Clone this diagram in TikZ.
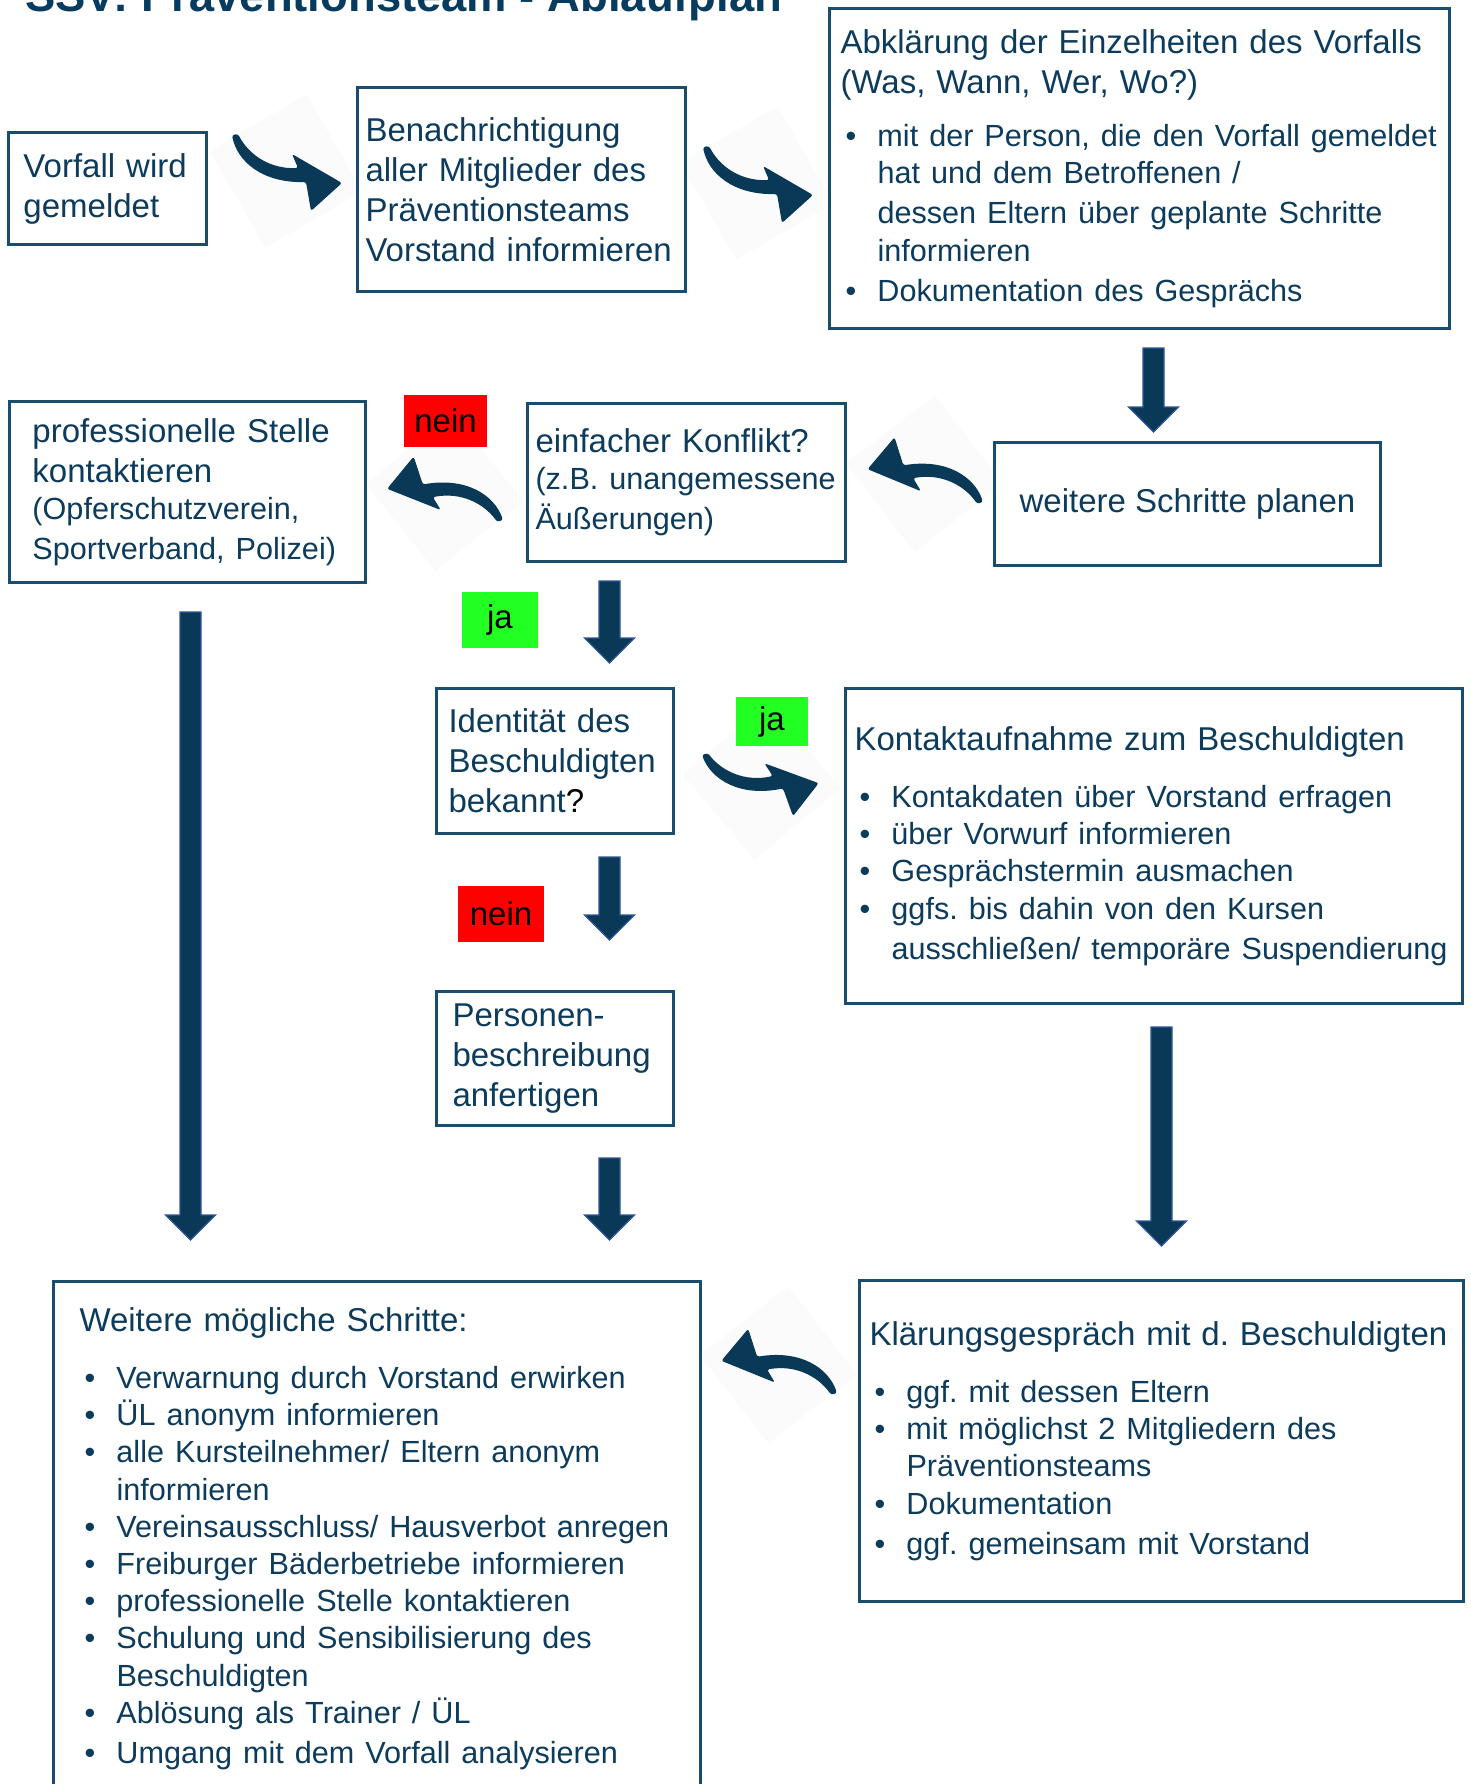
\documentclass[tikz,border=0pt]{standalone}
\usepackage{fontspec}
\setmainfont{Liberation Sans}
\usetikzlibrary{calc}
\setlength{\parindent}{0pt}
\frenchspacing

\definecolor{navy}{RGB}{13,59,92}
\definecolor{titleblue}{RGB}{8,60,95}
\definecolor{boxblue}{RGB}{26,76,110}
\definecolor{arrowblue}{RGB}{10,57,88}
\definecolor{arrowrim}{RGB}{47,85,151}
\definecolor{jagreen}{RGB}{34,255,34}

\newcommand{\titletxt}{\fontsize{22.7pt}{27pt}\selectfont\bfseries}
\newcommand{\bigtxt}{\fontsize{16.5pt}{20pt}\selectfont}
\newcommand{\smalltxt}{\fontsize{15.3pt}{18.6pt}\selectfont}
\newcommand{\bul}{\hspace*{2.5pt}\makebox[16pt][l]{•}}
\newcommand{\cont}{\hspace*{18.5pt}}

% block arrow pointing down, #1 = top coordinate, #2 = level of the tip
\newcommand{\blockdown}[2]{%
  \filldraw[blockarr] ($(#1)+(-10.5,0)$) -- ($(#1 |- #2)+(-10.5,-25)$) -- ($(#1 |- #2)+(-25,-25)$)
    -- (#1 |- #2) -- ($(#1 |- #2)+(25,-25)$) -- ($(#1 |- #2)+(10.5,-25)$) -- ($(#1)+(10.5,0)$) -- cycle;}

\tikzset{
  flowbox/.style={draw=boxblue, line width=1.5pt, fill=white, text=navy, font=\bigtxt,
    align=left, anchor=north west, inner ysep=0pt},
  answer/.style={font=\bigtxt, text=black, inner sep=0pt},
  blockarr/.style={fill=arrowblue, draw=arrowrim, line width=0.6pt},
  bentarrow/.pic={
    \fill[black!1.5, rotate around={30:(54,36)}] (-2,-20) rectangle (110,92);
    \fill[arrowblue, rounded corners=1.2pt] (0,0) .. controls (5,26) and (30,48) .. (74,47)
      -- (79,76) -- (110,48) -- (60,19) -- (66,33) .. controls (38,34) and (17,20) .. (6,-1) -- cycle;
  }
}

\begin{document}
\begin{tikzpicture}[x=0.5pt,y=-0.5pt]
\useasboundingbox (0,0) rectangle (1471,1784);
\clip (0,0) rectangle (1471,1784);

% title (cut at the top)
\node[anchor=base west, inner sep=0pt, text=titleblue, font=\titletxt] (titel) at (25,11) {SSV: Präventionsteam - Ablaufplan};

% bent arrows
\pic at (232,135) {bentarrow};
\pic at (703,147) {bentarrow};
\pic[rotate=188.5] at (503,520) {bentarrow};
\pic[rotate=187.7] at (983,502) {bentarrow};
\pic[rotate=10] at (702,755) {bentarrow};
\pic[rotate=188] at (837,1393) {bentarrow};

% boxes
\node[flowbox, minimum width=99pt, minimum height=56pt, inner xsep=7.5pt, text width=84pt] (vorfall) at (7,131)
  {Vorfall wird\\gemeldet};
\node[flowbox, minimum width=164pt, minimum height=102pt, inner xsep=4pt, text width=156pt] (benach) at (356,86)
  {Benachrichtigung\\aller Mitglieder des\\Präventionsteams\\Vorstand informieren};
\node[flowbox, minimum width=310pt, minimum height=160pt, inner xsep=5.5pt, text width=299pt] (abkl) at (828,7)
  {Abklärung der Einzelheiten des Vorfalls\\(Was, Wann, Wer, Wo?)\\[8pt]
   \smalltxt\bul mit der Person, die den Vorfall gemeldet\\\cont hat und dem Betroffenen /\\[1.5pt]
   \cont dessen Eltern über geplante Schritte\\\cont informieren\\\bul Dokumentation des Gesprächs};
\node[flowbox, minimum width=193pt, minimum height=61.5pt, align=center] (planen) at (993,441)
  {weitere Schritte planen};
\node[flowbox, minimum width=159pt, minimum height=79pt, inner xsep=4pt, text width=151pt] (konflikt) at (526,402)
  {einfacher Konflikt?\\\smalltxt(z.B. unangemessene\\Äußerungen)};
\node[flowbox, minimum width=178pt, minimum height=90.5pt, inner xsep=11.5pt, text width=155pt] (profi) at (8,400)
  {professionelle Stelle\\kontaktieren\\\smalltxt(Opferschutzverein,\\Sportverband, Polizei)};
\node[flowbox, minimum width=118.5pt, minimum height=72.5pt, inner xsep=6pt, text width=106.5pt] (ident) at (435,687)
  {Identität des\\Beschuldigten\\bekannt{\color{black}?}};
\node[flowbox, minimum width=308.5pt, minimum height=157.5pt, inner xsep=4.5pt, text width=299.5pt] (kontakt) at (844,687)
  {Kontaktaufnahme zum Beschuldigten\\[10pt]
   \smalltxt\bul Kontakdaten über Vorstand erfragen\\\bul über Vorwurf informieren\\
   \bul Gesprächstermin ausmachen\\\bul ggfs. bis dahin von den Kursen\\\cont ausschließen/ temporäre Suspendierung};
\node[flowbox, minimum width=118.5pt, minimum height=67pt, inner xsep=8pt, text width=102.5pt] (person) at (435,990)
  {Personen-\\beschreibung\\anfertigen};
\node[flowbox, minimum width=323.5pt, minimum height=257pt, inner xsep=13pt, text width=297.5pt] (schritte) at (52,1280)
  {Weitere mögliche Schritte:\\[10pt]
   \smalltxt\bul Verwarnung durch Vorstand erwirken\\\bul ÜL anonym informieren\\
   \bul alle Kursteilnehmer/ Eltern anonym\\\cont informieren\\
   \bul Vereinsausschluss/ Hausverbot anregen\\\bul Freiburger Bäderbetriebe informieren\\
   \bul professionelle Stelle kontaktieren\\\bul Schulung und Sensibilisierung des\\\cont Beschuldigten\\
   \bul Ablösung als Trainer / ÜL\\\bul Umgang mit dem Vorfall analysieren};
\node[flowbox, minimum width=302pt, minimum height=160.5pt, inner xsep=5pt, text width=292pt] (klaerung) at (858,1279)
  {Klärungsgespräch mit d. Beschuldigten\\[10pt]
   \smalltxt\bul ggf. mit dessen Eltern\\\bul mit möglichst 2 Mitgliedern des\\\cont Präventionsteams\\
   \bul Dokumentation\\\bul ggf. gemeinsam mit Vorstand};

% answers
\node[answer, fill=red, minimum width=41.5pt, minimum height=26pt] (nein1) at (445.5,421) {nein};
\node[answer, fill=jagreen, minimum width=38pt, minimum height=28pt] (ja1) at (500,620) {ja};
\node[answer, fill=jagreen, minimum width=36pt, minimum height=24.5pt] (ja2) at (772,721.5) {ja};
\node[answer, fill=red, minimum width=43pt, minimum height=28pt] (nein2) at (501,914) {nein};

% straight arrows
\coordinate (a1top) at ($(abkl.south)+(14,18)$);
\coordinate (a1tip) at ($(planen.north)+(0,-9)$);
\coordinate (a2top) at ($(konflikt.south)+(-77,18)$);
\coordinate (a2tip) at ($(ident.north)+(0,-24)$);
\coordinate (a3top) at ($(ident.south)+(54.5,22)$);
\coordinate (a3tip) at ($(person.north)+(0,-50)$);
\coordinate (a4top) at ($(person.south)+(54.5,31)$);
\coordinate (a4tip) at ($(schritte.north)+(0,-40)$);
\coordinate (a5top) at ($(profi.south)+(3,28)$);
\coordinate (a6top) at ($(kontakt.south)+(7.5,22)$);
\coordinate (a6tip) at ($(klaerung.north)+(0,-33)$);
\blockdown{a1top}{a1tip}
\blockdown{a2top}{a2tip}
\blockdown{a3top}{a3tip}
\blockdown{a4top}{a4tip}
\blockdown{a5top}{a4tip}
\blockdown{a6top}{a6tip}
\end{tikzpicture}
\end{document}
